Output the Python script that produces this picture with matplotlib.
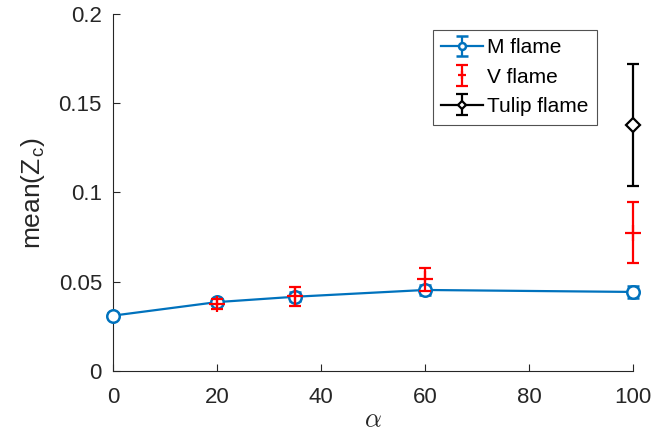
import matplotlib.pyplot as plt

plt.rcParams['font.family'] = ['Liberation Sans', 'DejaVu Sans']
plt.rcParams['mathtext.fontset'] = 'cm'

# data
alpha_m = [0, 20, 35, 60, 100]
zc_m = [0.0309, 0.0385, 0.0415, 0.0453, 0.0442]
err_m = [0.0012, 0.0018, 0.0025, 0.003, 0.0035]

alpha_v = [20, 35, 60, 100]
zc_v = [0.0372, 0.0418, 0.0513, 0.0774]
err_v = [0.0028, 0.0053, 0.0063, 0.0170]

alpha_t = [100]
zc_t = [0.1378]
err_t = [0.0342]

blue = '#0072BD'
dark = '#262626'

fig = plt.figure(figsize=(6.53, 4.41), dpi=100)
ax = fig.add_axes([113 / 653, 70.3 / 441, 520 / 653, 356.4 / 441])

ax.errorbar(alpha_m, zc_m, yerr=err_m, color=blue, lw=1.6, marker='o', ms=9,
            mfc='white', mec=blue, mew=1.8, capsize=4, elinewidth=1.6,
            capthick=1.6, label='M flame', zorder=3, clip_on=False)
ax.errorbar(alpha_v, zc_v, yerr=err_v, color='red', ls='none', marker='+', ms=11,
            mew=1.6, capsize=4, elinewidth=1.6, capthick=1.6, label='V flame',
            zorder=4, clip_on=False)
ax.errorbar(alpha_t, zc_t, yerr=err_t, color='black', ls='-', lw=1.6, marker='D', ms=7,
            mfc='white', mec='black', mew=1.6, capsize=4, elinewidth=1.6,
            capthick=1.6, label='Tulip flame', zorder=3, clip_on=False)

ax.set_xlim(0, 100)
ax.set_ylim(0, 0.2)
ax.set_xticks([0, 20, 40, 60, 80, 100])
ax.set_yticks([0, 0.05, 0.1, 0.15, 0.2])
ax.set_yticklabels(['0', '0.05', '0.1', '0.15', '0.2'])
ax.tick_params(direction='in', labelsize=16, colors=dark, length=5, width=0.8)
ax.tick_params(axis='x', pad=12)
ax.tick_params(axis='y', pad=8)
for s in ['top', 'right']:
    ax.spines[s].set_visible(False)
for s in ['left', 'bottom']:
    ax.spines[s].set_color(dark)
    ax.spines[s].set_linewidth(0.8)

ax.set_xlabel(r'$\alpha$', fontsize=19, color=dark, labelpad=0)
ax.set_ylabel(r'mean(Z$_\mathregular{c}$)', fontsize=19, color=dark, labelpad=8)

leg = ax.legend(loc='upper left', bbox_to_anchor=(320 / 520, 340.7 / 356.4), fontsize=15,
                frameon=True, fancybox=False, edgecolor=dark, markerscale=0.55,
                handlelength=2.0, handletextpad=0.2, borderpad=0.4, labelspacing=0.5,
                borderaxespad=0)
leg.get_frame().set_linewidth(0.8)

fig.savefig('out.png', dpi=100)
